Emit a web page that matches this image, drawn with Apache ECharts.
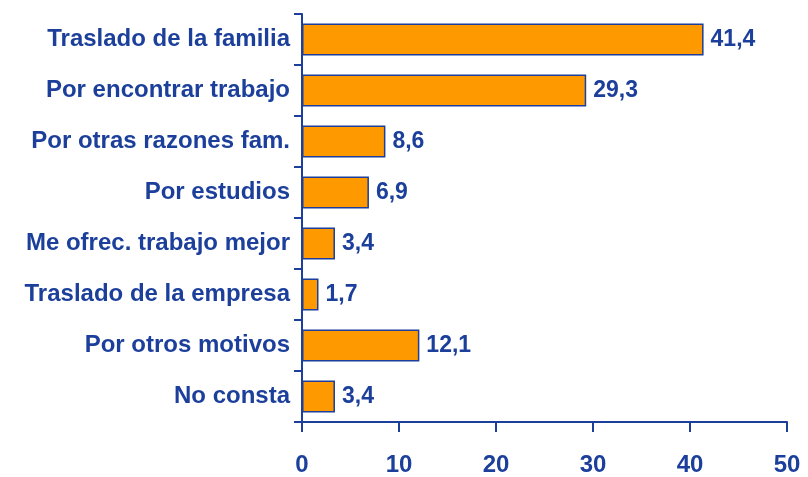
<!DOCTYPE html>
<html>
<head>
<meta charset="utf-8">
<script src="https://cdn.jsdelivr.net/npm/echarts@6/dist/echarts.min.js"></script>
<style>
  html, body { margin: 0; padding: 0; background: #fff; }
  #main { width: 808px; height: 477px; }
</style>
</head>
<body>
<div id="main"></div>
<script>
var categories = ['Traslado de la familia', 'Por encontrar trabajo', 'Por otras razones fam.', 'Por estudios',
                  'Me ofrec. trabajo mejor', 'Traslado de la empresa', 'Por otros motivos', 'No consta'];
var values = [41.4, 29.3, 8.6, 6.9, 3.4, 1.7, 12.1, 3.4];
var xTicks = [0, 10, 20, 30, 40, 50];

var blue = '#1b3f9a';
var orange = '#ff9900';
var font = '"Liberation Sans", Arial, sans-serif';

var myChart = echarts.init(document.getElementById('main'));

var option = {
    animation: false,
    grid: {
        left: 302,
        right: 21,
        top: 14,
        bottom: 55,
        containLabel: false
    },
    xAxis: {
        type: 'value',
        min: xTicks[0],
        max: xTicks[xTicks.length - 1],
        interval: 10,
        splitLine: { show: false },
        axisLine: { show: true, lineStyle: { color: blue, width: 2 } },
        axisTick: { show: true, length: 10, lineStyle: { color: blue, width: 2 } },
        axisLabel: {
            color: blue,
            fontFamily: font,
            fontWeight: 'bold',
            fontSize: 24,
            margin: 31
        }
    },
    yAxis: {
        type: 'category',
        inverse: true,
        data: categories,
        axisLine: { show: true, lineStyle: { color: blue, width: 2 } },
        axisTick: { show: true, length: 8, lineStyle: { color: blue, width: 2 } },
        axisLabel: {
            color: blue,
            fontFamily: font,
            fontWeight: 'bold',
            fontSize: 24,
            margin: 12
        }
    },
    series: [
        {
            type: 'bar',
            data: values,
            barCategoryGap: '37%',
            itemStyle: {
                color: orange,
                borderColor: blue,
                borderWidth: 1.5
            },
            label: {
                show: true,
                position: 'right',
                distance: 7,
                color: blue,
                fontFamily: font,
                fontWeight: 'bold',
                fontSize: 23,
                formatter: function (p) {
                    return p.value.toFixed(1).replace('.', ',');
                }
            }
        }
    ]
};

myChart.setOption(option);
</script>
</body>
</html>
